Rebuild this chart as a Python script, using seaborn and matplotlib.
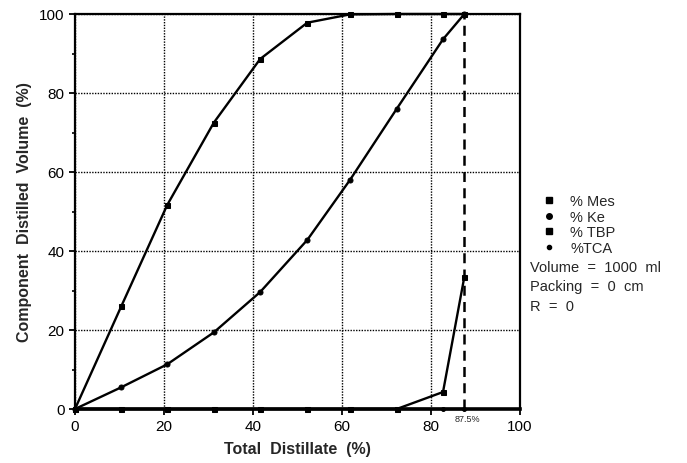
import matplotlib
matplotlib.use("Agg")
import matplotlib.pyplot as plt
from matplotlib.lines import Line2D
from matplotlib.ticker import MultipleLocator
import seaborn as sns
import pandas as pd

# Data
total_distillate = [0, 10.4, 20.7, 31.2, 41.6, 52.2, 61.8, 72.3, 82.7, 87.5]
mes = [0, 26, 51.6, 72.5, 88.6, 97.8, 99.9, 100, 100, 100]
ke = [0, 5.5, 11.3, 19.4, 29.6, 42.8, 58, 76, 93.6, 100]
tbp = [0, 0, 0, 0, 0, 0, 0, 0, 4.3, 33.5]
tca = [0, 0, 0, 0, 0, 0, 0, 0, 0, 0]
series_names = ["% Mes", "% Ke", "% TBP", "%TCA"]
series_markers = ["s", "o", "s", "o"]
x_ticks = [0, 20, 40, 60, 80, 100]
y_ticks = [0, 20, 40, 60, 80, 100]
cut_point = 87.5
info_lines = ["Volume  =  1000  ml", "Packing  =  0  cm", "R  =  0"]

sns.set_style("ticks")
plt.rcParams["font.family"] = ["Liberation Sans", "DejaVu Sans"]

fig = plt.figure(figsize=(6.87, 4.64), dpi=100)
ax = fig.add_axes([75 / 687, 1 - 410 / 464, (520 - 75) / 687, (410 - 15) / 464])

df = pd.DataFrame({"x": total_distillate, "% Mes": mes, "% Ke": ke,
                   "% TBP": tbp, "%TCA": tca})
long = df.melt(id_vars="x", var_name="series", value_name="y")

for name, mk in zip(series_names, series_markers):
    sub = long[long["series"] == name]
    ms = 3.6 if name != "%TCA" else 2.8
    sns.lineplot(data=sub, x="x", y="y", ax=ax, color="black", linewidth=1.7,
                 marker=mk, markersize=ms, markeredgecolor="black",
                 markerfacecolor="black", legend=False, sort=False,
                 clip_on=False, zorder=3)

ax.axvline(cut_point, ymin=0, ymax=1, color="black", linestyle=(0, (4, 2.5)),
           linewidth=1.8, zorder=2)
ax.text(cut_point + 0.8, -1.2, "87.5%", ha="center", va="top", fontsize=6.5)

ax.set_xlim(0, 100)
ax.set_ylim(0, 100)
ax.set_xticks(x_ticks)
ax.set_yticks(y_ticks)
ax.yaxis.set_minor_locator(MultipleLocator(10))
ax.tick_params(axis="both", which="major", direction="out", length=4,
               width=1.3, labelsize=11, color="black", labelcolor="black")
ax.tick_params(axis="y", which="minor", direction="out", length=2.5,
               width=1.2, color="black")
ax.tick_params(axis="x", which="major", pad=3)
ax.grid(True, which="major", color="black", linestyle=(0, (1, 1)),
        linewidth=1.0)
for sp in ax.spines.values():
    sp.set_visible(True)
    sp.set_color("black")
    sp.set_linewidth(1.6)
ax.spines["bottom"].set_linewidth(2.6)

ax.set_xlabel("Total  Distillate  (%)", fontsize=11.5, fontweight="bold",
              labelpad=6)
ax.set_ylabel("Component  Distilled  Volume  (%)", fontsize=11.5,
              fontweight="bold", labelpad=5)

handles = [Line2D([], [], linestyle="none", marker=m, color="black",
                  markersize=(4 if n != "%TCA" else 3))
           for n, m in zip(series_names, series_markers)]
leg = fig.legend(handles, series_names, loc="upper left",
                 bbox_to_anchor=(534 / 687, 1 - 188 / 464), frameon=False,
                 fontsize=10.5, handlelength=1.0, handletextpad=1.0,
                 labelspacing=0.1, borderpad=0)

for i, line in enumerate(info_lines):
    fig.text(530 / 687, 1 - (268 + 19.5 * i) / 464, line, fontsize=10.5,
             ha="left", va="center")

fig.savefig("out.png", dpi=100)
